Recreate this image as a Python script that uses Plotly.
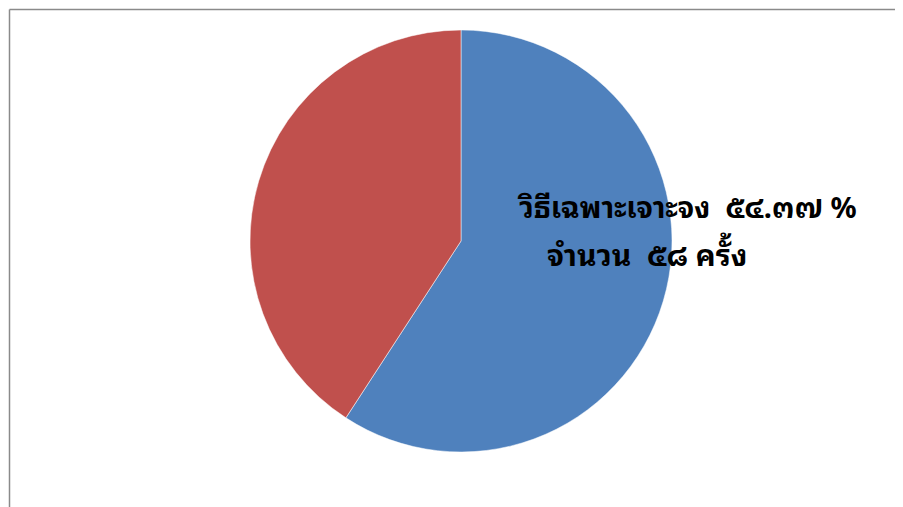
import plotly.graph_objects as go

labels = ["วิธีเฉพาะเจาะจง", "วิธีอื่น"]
values = [58, 40]
colors = ["#4F81BD", "#C0504D"]
label_line1 = "วิธีเฉพาะเจาะจง  ๕๔.๓๗ %"
label_line2 = "จำนวน  ๕๘ ครั้ง"

OX, OY = 8, 8  # page offset of the plot inside the browser
W, H = 903 - OX, 507 - OY


def px(x):
    return (x - OX) / W


def py(y):
    return 1 - (y - OY) / H


fig = go.Figure(go.Pie(
    labels=labels, values=values, sort=False, direction="clockwise", rotation=0,
    marker=dict(colors=colors, line=dict(color="white", width=0.5)),
    textinfo="none", hoverinfo="label+value+percent", showlegend=False,
    domain=dict(x=[px(250), px(672)], y=[py(452), py(30)]),
))

family = "Noto Sans Thai Looped, Noto Sans Thai, Noto Sans, DejaVu Sans, sans-serif"
fig.add_annotation(x=px(515), y=py(205), xref="paper", yref="paper", xanchor="left", yanchor="middle",
                   text="<b>" + label_line1 + "</b>", showarrow=False,
                   font=dict(family=family, size=29, color="black"))
fig.add_annotation(x=px(545), y=py(252), xref="paper", yref="paper", xanchor="left", yanchor="middle",
                   text="<b>" + label_line2 + "</b>", showarrow=False,
                   font=dict(family=family, size=30, color="black"))

fig.add_shape(type="line", xref="paper", yref="paper", x0=px(9.5), x1=1, y0=py(9.5), y1=py(9.5),
              line=dict(color="#8a8a8a", width=1.5))
fig.add_shape(type="line", xref="paper", yref="paper", x0=px(9.5), x1=px(9.5), y0=0, y1=py(9.5),
              line=dict(color="#8a8a8a", width=1.5))

fig.update_layout(width=W, height=H, margin=dict(l=0, r=0, t=0, b=0),
                  paper_bgcolor="white", plot_bgcolor="white")
fig.write_html("out.html")
